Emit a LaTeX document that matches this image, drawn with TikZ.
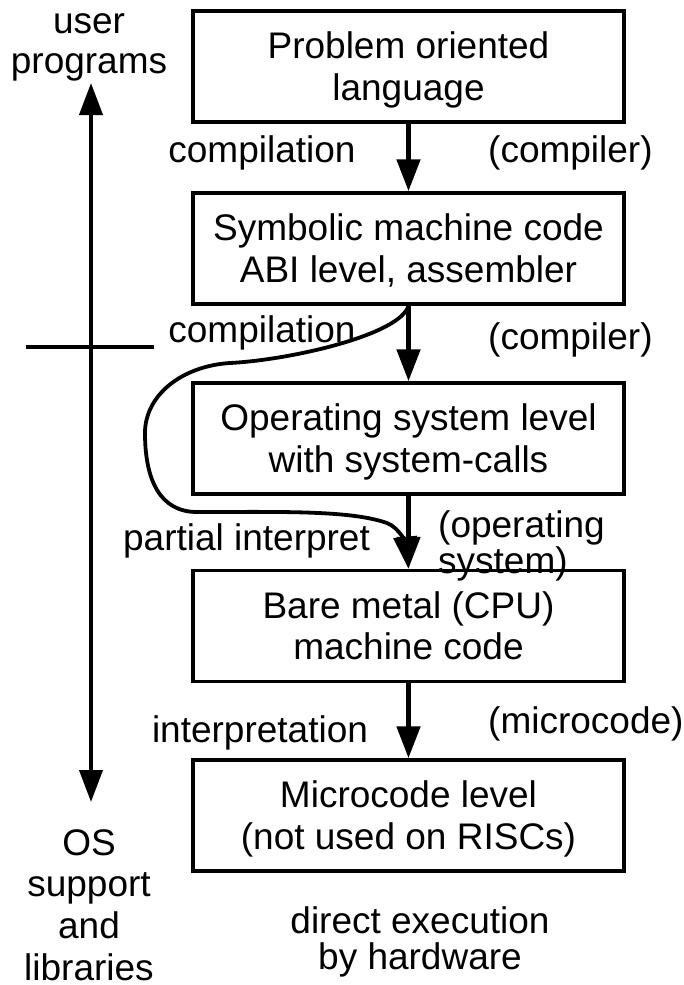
\documentclass[tikz,border=0pt]{standalone}
\usepackage{fontspec}
\setmainfont{Liberation Sans}
\usetikzlibrary{arrows.meta}
\newcommand\mytop{\rule{0pt}{34pt}}
\newcommand\mybot{\rule[-8pt]{0pt}{8pt}}
\newcommand\lstrut{\rule{0pt}{30pt}}
\begin{document}
\begin{tikzpicture}[x=1pt,y=1pt,
  every node/.style={font=\fontsize{37}{41.5}\selectfont},
  box/.style={draw,line width=3.5pt,minimum width=431pt,minimum height=111pt,inner sep=0pt,align=center},
  lbl/.style={inner sep=0pt,anchor=north,align=center},
  one/.style={inner sep=0pt,anchor=base},
  head/.style={Triangle[length=32pt,width=23pt]},
  flow/.style={line width=5pt,-{Triangle[length=32pt,width=23pt]}},
  curvy/.style={line width=3.8pt,-{Triangle[length=32pt,width=23pt]}},
  axis/.style={line width=4pt,{Triangle[length=32pt,width=23pt]}-{Triangle[length=32pt,width=23pt]}},
  sep/.style={line width=3.5pt}]
\useasboundingbox (0,0) rectangle (683,-985);

% boxes
\node[box] (b1) at (408.5,-66.5) {\mytop Problem oriented\\language\mybot};
\node[box] (b2) at (408.5,-248.5) {\mytop Symbolic machine code\\ABI level, assembler\mybot};
\node[box] (b3) at (408.5,-438.5) {\mytop Operating system level\\with system-calls\mybot};
\node[box] (b4) at (408.5,-626) {\mytop Bare metal (CPU)\\machine code\mybot};
\node[box] (b5) at (408.5,-815.5) {\mytop Microcode level\\(not used on RISCs)\mybot};

% straight arrows
\draw[flow] (b1.south) -- (b2.north);
\draw[flow] (b2.south) -- (b3.north);
\draw[flow] (b3.south) -- (b4.north);
\draw[flow] (b4.south) -- (b5.north);

% curved partial interpretation arrow
\draw[curvy] (b2.south) .. controls (400,-335) and (290,-360) .. (230,-363)
  .. controls (182,-366) and (145,-395) .. (145,-433)
  .. controls (145,-480) and (160,-512) .. (197,-512)
  .. controls (280,-512) and (350,-510) .. (387,-523)
  .. controls (400,-528) and (406,-545) .. (b4.north);

% left axis
\coordinate (ua) at (91,-83);
\coordinate (da) at (91,-802);
\draw[axis] (ua) -- (da);
\coordinate (hl) at (26,-347);
\coordinate (hr) at (154,-347);
\draw[sep] (hl) -- (hr);

% labels
\node[lbl,font=\fontsize{37}{40.5}\selectfont] (up) at (89,-3) {\lstrut user\\programs};
\node[lbl,font=\fontsize{37}{41.7}\selectfont] (os) at (89,-825) {\lstrut OS\\support\\and\\libraries};
\node[one] (c1) at (262,-162) {compilation};
\node[one,anchor=base west] (k1) at (488,-162) {(compiler)};
\node[one] (c2) at (262,-342) {compilation};
\node[one,anchor=base west] (k2) at (488,-349) {(compiler)};
\node[one] (pi) at (246.5,-550) {partial interpret};
\node[lbl,anchor=north west,align=left,font=\fontsize{37}{36}\selectfont] (opsys) at (438,-507) {\lstrut (operating\\system)};
\node[one] (ip) at (260,-742) {interpretation};
\node[one,anchor=base west] (mc) at (488,-733) {(microcode)};
\node[lbl,font=\fontsize{37}{36}\selectfont] (dx) at (420,-903) {\lstrut direct execution\\by hardware};
\end{tikzpicture}
\end{document}
